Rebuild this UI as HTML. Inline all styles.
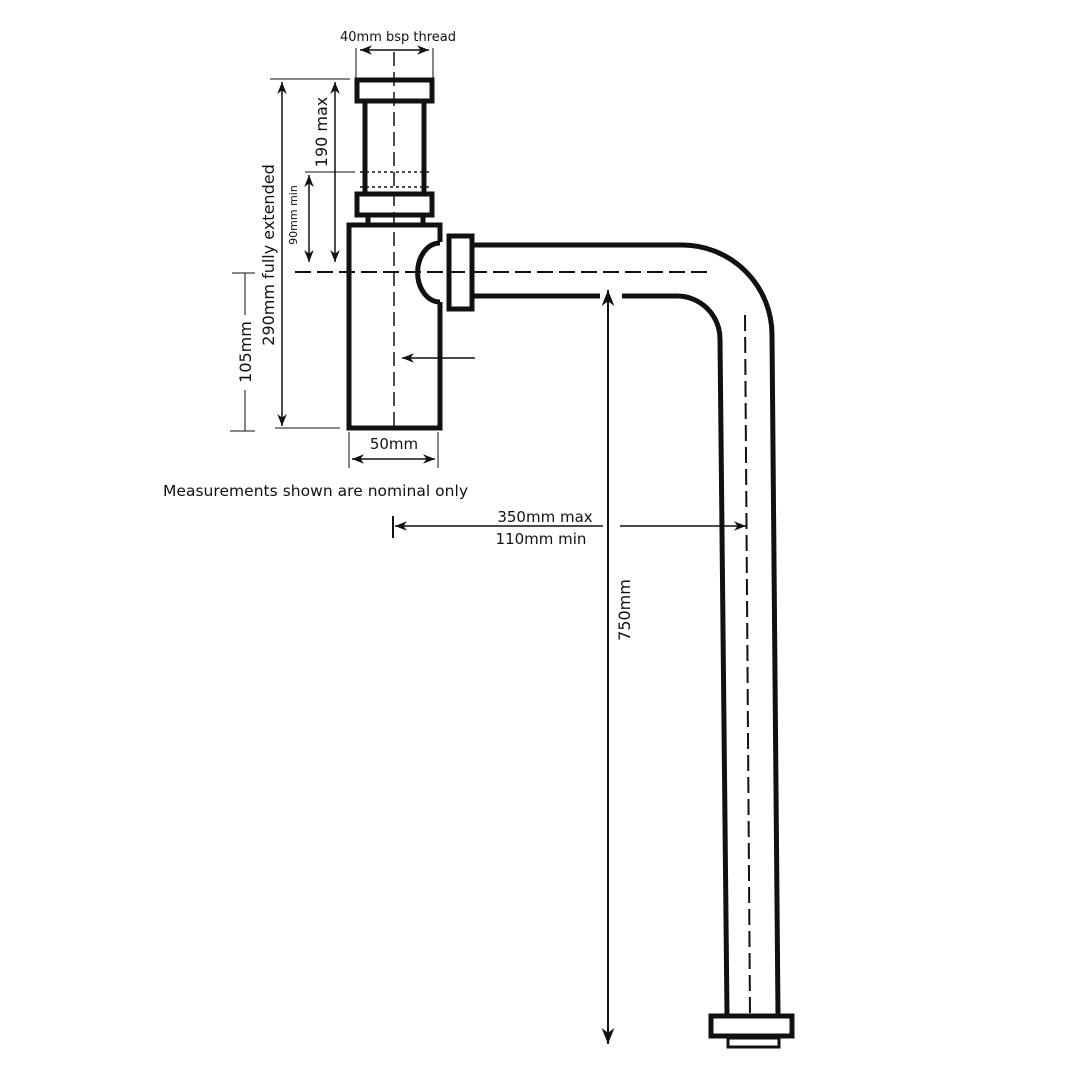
<!DOCTYPE html>
<html><head><style>body{margin:0;background:#fff}svg{display:block}text{font-family:"DejaVu Sans","Liberation Sans",sans-serif;fill:#111}</style></head>
<body>
<svg width="1080" height="1080" viewBox="0 0 1080 1080">
<defs>
<marker id="a" viewBox="0 0 10 10" refX="10" refY="5" markerWidth="8" markerHeight="8" orient="auto-start-reverse"><path d="M0,1 L10,5 L0,9 L3,5z" fill="#111"/></marker>
</defs>
<g fill="none" stroke="#111" stroke-width="5">
<rect x="357" y="80" width="75" height="21"/>
<line x1="365" y1="101" x2="365" y2="193"/><line x1="424" y1="101" x2="424" y2="193"/>
<rect x="357" y="194" width="75" height="21"/>
<line x1="368" y1="215" x2="368" y2="225"/><line x1="423" y1="215" x2="423" y2="225"/>
<path d="M440,242 L440,225 L349,225 L349,428 L440,428 L440,302"/>
<path d="M440,243 A22,29 0 0 0 440,302"/>
<rect x="449" y="236" width="23" height="73"/>
<path d="M472,245 L682,245 A90,90 0 0 1 772,335 L778,1015"/>
<path d="M472,296 L600,296 M622,296 L677,296 A43,43 0 0 1 720,339 L727,1015"/>
<rect x="711" y="1016" width="81" height="20"/>
<rect x="728" y="1038" width="51" height="9" stroke-width="3"/>
</g>
<g stroke="#111" stroke-width="1.5" fill="none">
<line x1="394" y1="52" x2="394" y2="432" stroke-dasharray="14,6"/>
<line x1="295" y1="272" x2="710" y2="272" stroke-dasharray="16,6" stroke-width="2"/>
<line x1="745" y1="315" x2="750" y2="1015" stroke-dasharray="16,6" stroke-width="2"/>
<line x1="360" y1="172" x2="430" y2="172" stroke-dasharray="3,3"/>
<line x1="360" y1="187" x2="430" y2="187" stroke-dasharray="3,3"/>
<line x1="356" y1="48" x2="356" y2="78" stroke-width="1"/><line x1="433" y1="48" x2="433" y2="78" stroke-width="1"/>
<line x1="360" y1="50" x2="429" y2="50" marker-start="url(#a)" marker-end="url(#a)"/>
<line x1="270" y1="79" x2="350" y2="79" stroke-width="1"/>
<line x1="305" y1="172" x2="355" y2="172" stroke-width="1"/>
<line x1="275" y1="428" x2="340" y2="428" stroke-width="1"/>
<line x1="230" y1="431" x2="255" y2="431" stroke-width="1"/>
<line x1="232" y1="273" x2="255" y2="273" stroke-width="1"/>
<line x1="245" y1="273" x2="245" y2="315" stroke-width="1"/>
<line x1="245" y1="390" x2="245" y2="431" stroke-width="1"/>
<line x1="282" y1="82" x2="282" y2="426" marker-start="url(#a)" marker-end="url(#a)"/>
<line x1="335" y1="82" x2="335" y2="262" marker-start="url(#a)" marker-end="url(#a)"/>
<line x1="309" y1="175" x2="309" y2="262" marker-start="url(#a)" marker-end="url(#a)"/>
<line x1="349" y1="432" x2="349" y2="468" stroke-width="1"/><line x1="438" y1="432" x2="438" y2="468" stroke-width="1"/>
<line x1="352" y1="459" x2="435" y2="459" marker-start="url(#a)" marker-end="url(#a)"/>
<line x1="475" y1="358" x2="402" y2="358" marker-end="url(#a)"/>
<line x1="608" y1="290" x2="608" y2="1044" stroke-width="2" marker-start="url(#a)" marker-end="url(#a)"/>
<line x1="395" y1="526" x2="603" y2="526" marker-start="url(#a)"/>
<line x1="620" y1="526" x2="746" y2="526" marker-end="url(#a)"/>
<line x1="393" y1="516" x2="393" y2="538" stroke-width="2"/>
</g>
<text x="398" y="41" font-size="13" text-anchor="middle">40mm bsp thread</text>
<text x="394" y="449" font-size="15" text-anchor="middle">50mm</text>
<text x="163" y="496" font-size="15.5" textLength="305">Measurements shown are nominal only</text>
<text x="545" y="522" font-size="15" text-anchor="middle">350mm  max</text>
<text x="541" y="544" font-size="15" text-anchor="middle">110mm min</text>
<text transform="translate(274,255) rotate(-90)" font-size="16" text-anchor="middle">290mm fully extended</text>
<text transform="translate(327,132) rotate(-90)" font-size="16" text-anchor="middle">190 max</text>
<text transform="translate(297,215) rotate(-90)" font-size="11" text-anchor="middle">90mm min</text>
<text transform="translate(251,352) rotate(-90)" font-size="16" text-anchor="middle">105mm</text>
<text transform="translate(630,610) rotate(-90)" font-size="16" text-anchor="middle">750mm</text>
</svg>
</body></html>
